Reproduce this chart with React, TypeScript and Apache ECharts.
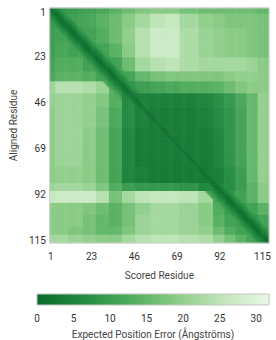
import React, { useEffect, useRef } from "react";
import * as echarts from "echarts";

// ---- data ----
const residueCount = 118;
const tickResidues = [1, 23, 46, 69, 92, 115];
const colorbarTicks = [0, 5, 10, 15, 20, 25, 30];
const paeMax = 31.75;

// segment starts (1-based residues) for aligned (rows) and scored (cols) residues
const rowSegmentStarts = [1, 4, 11, 19, 26, 33, 38, 44, 51, 61, 71, 81, 89, 93, 99, 105, 111, 115];
const colSegmentStarts = [1, 4, 11, 19, 26, 33, 40, 47, 55, 63, 71, 81, 89, 95, 101, 107, 113];

// block PAE values: blockPae[rowSegment][colSegment]
const blockPae = [
  [8, 9, 10, 11, 12, 14, 16, 18, 19, 19, 17, 16, 16, 16, 16, 16, 15],
  [9, 10, 11, 12, 14, 16, 19, 22, 25, 26, 22, 20, 19, 18, 18, 18, 17],
  [10, 11, 10, 11, 13, 16, 20, 24, 27, 27, 23, 21, 20, 19, 19, 18, 17],
  [10, 12, 11, 10, 11, 14, 19, 24, 27, 27, 23, 21, 20, 19, 19, 18, 17],
  [11, 13, 13, 11, 10, 11, 16, 22, 24, 25, 23, 22, 22, 22, 22, 21, 19],
  [12, 14, 14, 13, 11, 10, 11, 15, 17, 18, 18, 18, 18, 19, 20, 20, 19],
  [21, 24, 24, 23, 21, 14, 8, 10, 11, 12, 13, 13, 14, 16, 18, 19, 19],
  [20, 21, 21, 20, 18, 13, 6, 4, 4, 4, 4, 5, 7, 9, 12, 15, 20],
  [19, 21, 21, 20, 17, 12, 6, 4, 3, 3, 3, 4, 6, 8, 11, 15, 20],
  [19, 21, 21, 19, 16, 11, 5, 3, 3, 3, 3, 3, 5, 8, 11, 15, 20],
  [19, 21, 21, 19, 16, 11, 5, 3, 3, 3, 3, 3, 5, 8, 11, 15, 20],
  [19, 20, 20, 19, 16, 11, 5, 4, 3, 3, 3, 3, 4, 7, 10, 15, 20],
  [21, 22, 22, 21, 18, 13, 10, 9, 9, 9, 8, 6, 5, 7, 10, 14, 19],
  [26, 27, 27, 27, 24, 17, 22, 25, 26, 26, 25, 22, 12, 9, 11, 14, 19],
  [19, 19, 19, 18, 16, 14, 17, 20, 22, 22, 21, 19, 13, 10, 9, 11, 14],
  [19, 19, 19, 17, 15, 14, 17, 21, 22, 22, 21, 19, 14, 11, 10, 9, 11],
  [19, 19, 18, 17, 15, 15, 18, 21, 22, 22, 21, 20, 16, 13, 11, 10, 9],
  [22, 22, 21, 20, 19, 19, 22, 24, 25, 25, 24, 23, 20, 17, 14, 11, 9],
];

// PAE near the diagonal, by distance |aligned - scored|
const diagonalPae = [1, 2, 3.5, 5, 6.5, 8, 9.5, 11, 12.5];

const paeColors = ["#0b6a2b", "#238b41", "#4fab5d", "#8acb86", "#c2e6bb", "#eaf7e6"];

// ---- build ----
const residues = Array.from({ length: residueCount }, (_, i) => String(i + 1));

function segmentOf(starts: number[], residue: number) {
  let s = 0;
  for (let k = 0; k < starts.length; k++) if (residue >= starts[k]) s = k;
  return s;
}

function buildCells() {
  const cells: [number, number, number][] = [];
  for (let r = 1; r <= residueCount; r++) {
    const rs = segmentOf(rowSegmentStarts, r);
    for (let c = 1; c <= residueCount; c++) {
      const cs = segmentOf(colSegmentStarts, c);
      let v = blockPae[rs][cs];
      const d = Math.abs(r - c);
      if (d < diagonalPae.length) v = Math.min(v, diagonalPae[d]);
      cells.push([c - 1, r - 1, v]);
    }
  }
  return cells;
}

const FONT = "Roboto, 'Noto Sans', sans-serif";

export default function App() {
  const ref = useRef<HTMLDivElement>(null);
  useEffect(() => {
    if (!ref.current) return;
    const chart = echarts.init(ref.current, undefined, { renderer: "svg" });
    const tickIdx = tickResidues.map((t) => t - 1);
    const gridL = 37, gridT = 8, gridW = 232, gridH = 235;
    const barT = 294, barH = 11;
    chart.setOption({
      animation: false,
      textStyle: { fontFamily: FONT },
      grid: [
        { left: gridL, top: gridT, width: gridW, height: gridH, show: true, borderColor: "#cfcfcf", borderWidth: 1, z: 10, backgroundColor: "transparent" },
        { left: gridL, top: barT, width: gridW, height: barH },
      ],
      xAxis: [
        {
          type: "category",
          gridIndex: 0,
          data: residues,
          axisLine: { show: false },
          axisTick: { show: false },
          splitLine: { show: false },
          axisLabel: {
            interval: (i: number) => tickIdx.includes(i),
            color: "#333",
            fontSize: 10,
            margin: 8,
            fontFamily: FONT,
          },
          name: "Scored Residue",
          nameLocation: "middle",
          nameGap: 27,
          nameTextStyle: { color: "#444", fontSize: 10, fontFamily: FONT },
        },
        {
          type: "value",
          gridIndex: 1,
          min: 0,
          max: paeMax,
          interval: 5,
          axisLine: { show: false },
          axisTick: { show: false },
          splitLine: { show: false },
          axisLabel: {
            color: "#333",
            fontSize: 10,
            margin: 8,
            fontFamily: FONT,
            customValues: colorbarTicks,
            formatter: (v: number) => (colorbarTicks.includes(v) ? String(v) : ""),
          },
          name: "Expected Position Error (Ångströms)",
          nameLocation: "middle",
          nameGap: 24,
          nameTextStyle: { color: "#444", fontSize: 10, fontFamily: FONT },
        },
      ],
      yAxis: [
        {
          type: "category",
          gridIndex: 0,
          data: residues,
          inverse: true,
          axisLine: { show: false },
          axisTick: { show: false },
          splitLine: { show: false },
          axisLabel: {
            interval: (i: number) => tickIdx.includes(i),
            color: "#333",
            fontSize: 10,
            margin: 4,
            verticalAlign: "top",
            lineHeight: 8,
            fontFamily: FONT,
          },
          name: "Aligned Residue",
          nameLocation: "middle",
          nameGap: 25,
          nameTextStyle: { color: "#444", fontSize: 10, fontFamily: FONT },
        },
        { type: "value", gridIndex: 1, show: false, min: 0, max: 1 },
      ],
      visualMap: {
        show: false,
        type: "continuous",
        min: 0,
        max: paeMax,
        seriesIndex: 0,
        inRange: { color: paeColors },
      },
      graphic: [
        {
          type: "rect",
          shape: { x: gridL, y: barT, width: gridW, height: barH },
          style: {
            fill: new echarts.graphic.LinearGradient(
              0, 0, 1, 0,
              paeColors.map((c, i) => ({ offset: i / (paeColors.length - 1), color: c }))
            ),
            stroke: "#c4c4c4",
            lineWidth: 1,
          },
        },
      ],
      series: [
        {
          type: "heatmap",
          xAxisIndex: 0,
          yAxisIndex: 0,
          data: buildCells(),
          progressive: 0,
          itemStyle: { borderWidth: 0 },
          emphasis: { disabled: true },
        },
      ],
    });
    return () => chart.dispose();
  }, []);
  return <div ref={ref} style={{ width: 276, height: 340, position: "absolute", left: 0, top: 0 }} />;
}
